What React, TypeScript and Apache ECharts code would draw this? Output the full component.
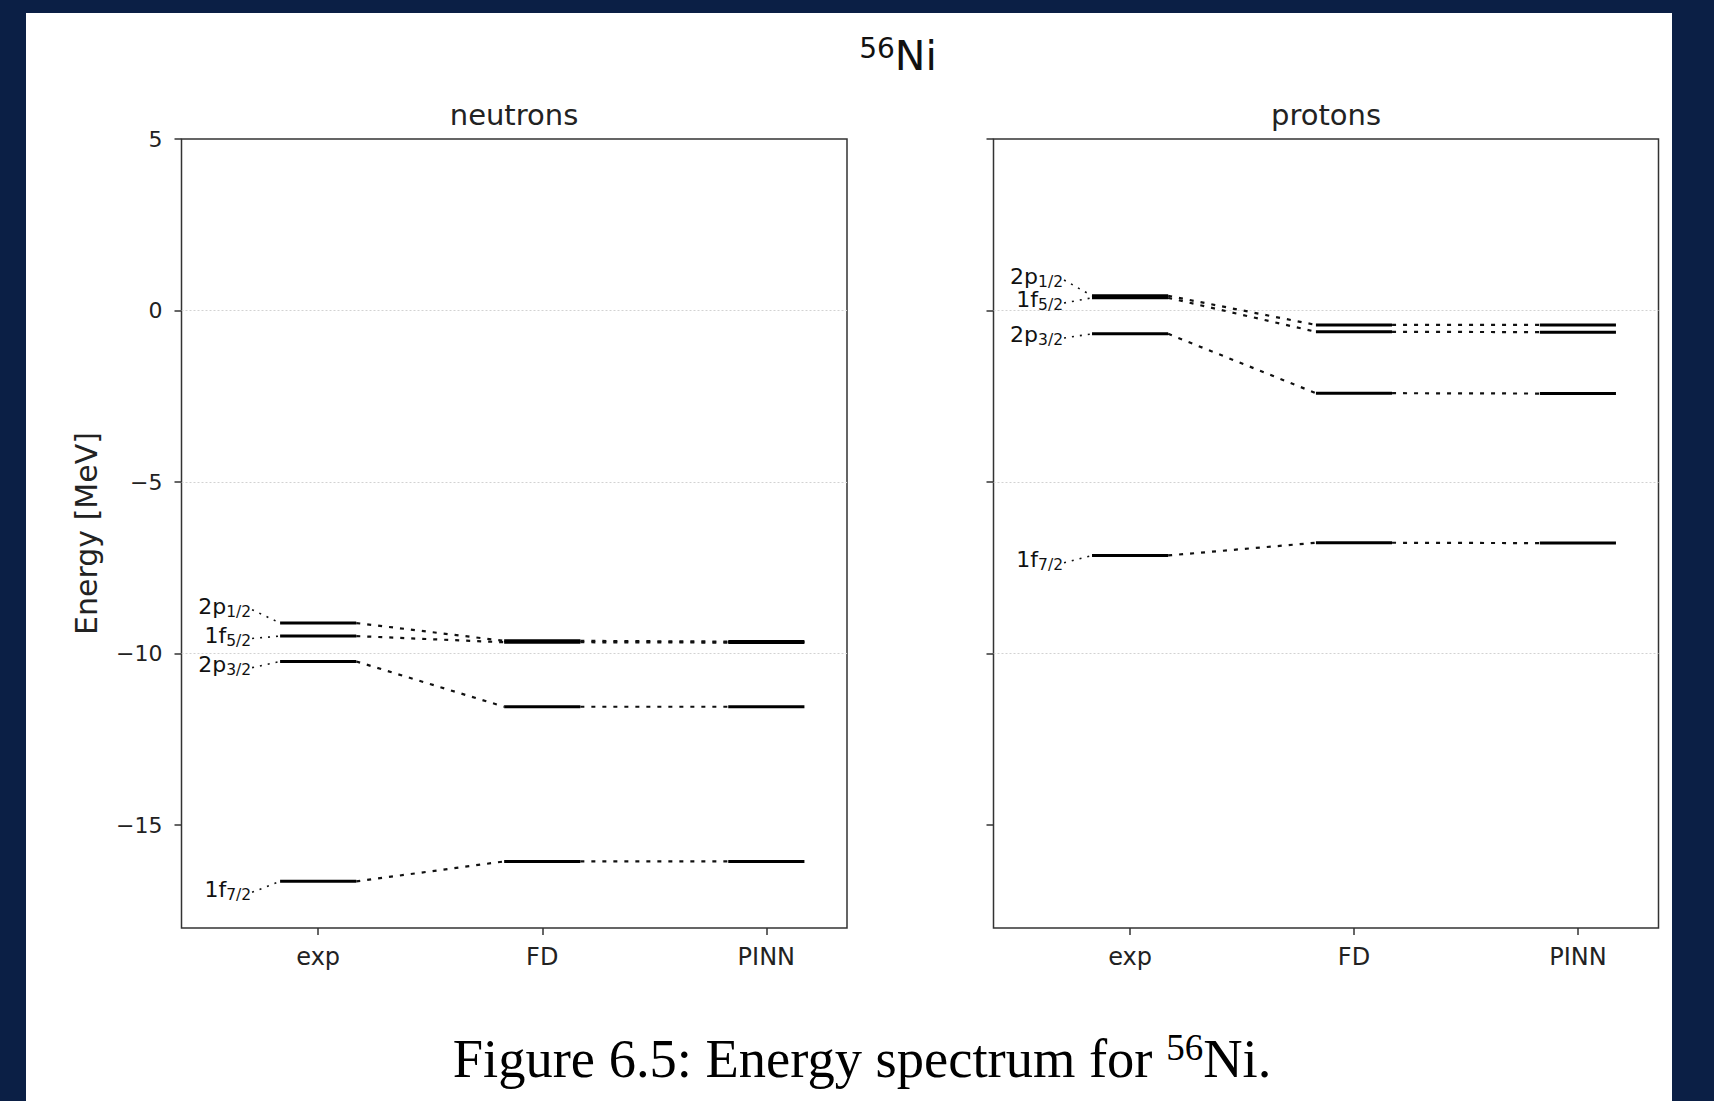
import React, { useEffect, useRef } from 'react';
import * as echarts from 'echarts';

// ---------- data ----------
const methods = ['exp', 'FD', 'PINN'];
const xTicks = [0, 1, 2];
const yTicks = [5, 0, -5, -10, -15];

const stateMain = ['2p', '1f', '2p', '1f'];
const stateSub = ['1/2', '5/2', '3/2', '7/2'];

const neutronExp = [-9.11, -9.49, -10.23, -16.64];
const neutronFD = [-9.63, -9.67, -11.55, -16.06];
const neutronPINN = [-9.65, -9.68, -11.55, -16.06];
const neutronLabelE = [-8.72, -9.56, -10.41, -16.96];

const protonExp = [0.43, 0.37, -0.68, -7.14];
const protonFD = [-0.42, -0.62, -2.41, -6.77];
const protonPINN = [-0.42, -0.63, -2.42, -6.78];
const protonLabelE = [0.89, 0.22, -0.8, -7.35];

// ---------- style constants ----------
const NAVY = '#0b1f45';
const FONT = 'DejaVu Sans';
const HALF = 0.17;
const LABEL_X = -0.295;
const X_MIN = -0.61;
const X_MAX = 2.36;
const Y_MIN = -18;
const Y_MAX = 5;

function rows(exp: number[], fd: number[], pinn: number[], lab: number[]) {
  return exp.map((v, i) => [v, fd[i], pinn[i], lab[i]]);
}

function makeRender() {
  return (params: any, api: any) => {
    const i = params.dataIndex;
    const vals = [api.value(0), api.value(1), api.value(2)];
    const lab = api.value(3);
    const children: any[] = [];
    const la = api.coord([LABEL_X, lab]);
    children.push({
      type: 'text',
      x: la[0] - 1,
      y: la[1] - 3,
      style: {
        text: `{m|${stateMain[i]}}{s|${stateSub[i]}}`,
        align: 'right',
        textAlign: 'right',
        verticalAlign: 'middle',
        textVerticalAlign: 'middle',
        fill: '#111',
        rich: {
          m: { fontSize: 22, fontFamily: FONT, fill: '#111', color: '#111' },
          s: { fontSize: 15.5, fontFamily: FONT, fill: '#111', color: '#111', padding: [11, 0, 0, 0] },
        },
      },
    });
    const e0 = api.coord([-HALF, vals[0]]);
    children.push({
      type: 'line',
      shape: { x1: la[0], y1: la[1], x2: e0[0], y2: e0[1] },
      style: { stroke: '#111', lineWidth: 1.6, lineDash: [2, 6] },
    });
    for (let k = 0; k < 3; k++) {
      const a = api.coord([k - HALF, vals[k]]);
      const b = api.coord([k + HALF, vals[k]]);
      children.push({
        type: 'line',
        shape: { x1: a[0], y1: a[1], x2: b[0], y2: b[1] },
        style: { stroke: '#000', lineWidth: 3 },
      });
    }
    for (let k = 0; k < 2; k++) {
      const a = api.coord([k + HALF, vals[k]]);
      const b = api.coord([k + 1 - HALF, vals[k + 1]]);
      children.push({
        type: 'line',
        shape: { x1: a[0], y1: a[1], x2: b[0], y2: b[1] },
        style: { stroke: '#111', lineWidth: 2.2, lineDash: [4, 7] },
      });
    }
    return { type: 'group', children };
  };
}

const minus = (v: number) => (v < 0 ? '\u2212' + Math.abs(v) : String(v));

function buildOption() {
  const grids = [
    { left: 181.5, top: 139, width: 665.5, height: 789 },
    { left: 993.5, top: 139, width: 665, height: 789 },
  ].map((g) => ({
    ...g,
    show: true,
    borderColor: '#333',
    borderWidth: 1.5,
    backgroundColor: 'rgba(0,0,0,0)',
    containLabel: false,
  }));

  const tickStyle = { color: '#333', width: 1.5 };

  const xAxes = [0, 1].map((gi) => ({
    gridIndex: gi,
    type: 'value',
    position: 'bottom',
    min: X_MIN,
    max: X_MAX,
    axisLine: { show: false, onZero: false },
    splitLine: { show: false },
    axisTick: { show: true, customValues: xTicks, length: 7, lineStyle: tickStyle },
    axisLabel: {
      show: true,
      customValues: xTicks,
      formatter: (v: number) => methods[Math.round(v)] ?? '',
      fontSize: 24,
      fontFamily: FONT,
      color: '#222',
      margin: 17,
    },
  }));

  const yAxes = [0, 1].map((gi) => ({
    gridIndex: gi,
    type: 'value',
    position: 'left',
    min: Y_MIN,
    max: Y_MAX,
    splitNumber: 5,
    axisLine: { show: false, onZero: false },
    axisTick: { show: true, customValues: yTicks, length: 7, lineStyle: tickStyle },
    axisLabel: {
      show: gi === 0,
      customValues: yTicks,
      formatter: (v: number) => minus(v),
      fontSize: 22,
      fontFamily: FONT,
      color: '#222',
      margin: 19,
    },
    splitLine: {
      show: true,
      showMinLine: false,
      showMaxLine: false,
      lineStyle: { color: '#d2d2d2', width: 1, type: [2, 2] },
    },
    name: gi === 0 ? 'Energy [MeV]' : '',
    nameLocation: 'middle',
    nameRotate: 90,
    nameGap: 80,
    nameTextStyle: { fontSize: 30, fontFamily: FONT, color: '#222' },
  }));

  const series = [
    {
      type: 'custom',
      name: 'neutrons',
      xAxisIndex: 0,
      yAxisIndex: 0,
      renderItem: makeRender(),
      data: rows(neutronExp, neutronFD, neutronPINN, neutronLabelE),
      clip: false,
      silent: true,
    },
    {
      type: 'custom',
      name: 'protons',
      xAxisIndex: 1,
      yAxisIndex: 1,
      renderItem: makeRender(),
      data: rows(protonExp, protonFD, protonPINN, protonLabelE),
      clip: false,
      silent: true,
    },
  ];

  const graphic = [
    {
      type: 'text',
      x: 898,
      y: 56,
      style: {
        text: '{sup|56}{main|Ni}',
        align: 'center',
        textAlign: 'center',
        verticalAlign: 'middle',
        textVerticalAlign: 'middle',
        fill: '#111',
        rich: {
          main: { fontSize: 41, fontFamily: FONT, fill: '#111', color: '#111' },
          sup: { fontSize: 28, fontFamily: FONT, fill: '#111', color: '#111', padding: [0, 0, 16, 0] },
        },
      },
    },
    {
      type: 'text',
      x: 514,
      y: 115,
      style: {
        text: 'neutrons',
        fontSize: 29,
        fontFamily: FONT,
        fill: '#222',
        align: 'center',
        textAlign: 'center',
        verticalAlign: 'middle',
        textVerticalAlign: 'middle',
      },
    },
    {
      type: 'text',
      x: 1326,
      y: 115,
      style: {
        text: 'protons',
        fontSize: 29,
        fontFamily: FONT,
        fill: '#222',
        align: 'center',
        textAlign: 'center',
        verticalAlign: 'middle',
        textVerticalAlign: 'middle',
      },
    },
    {
      type: 'text',
      x: 862,
      y: 1058,
      style: {
        text: '{a|Figure 6.5: Energy spectrum for }{sup|56}{a|Ni.}',
        align: 'center',
        textAlign: 'center',
        verticalAlign: 'middle',
        textVerticalAlign: 'middle',
        fill: '#000',
        rich: {
          a: { fontSize: 54.5, fontFamily: 'Liberation Serif', fill: '#000', color: '#000' },
          sup: { fontSize: 37, fontFamily: 'Liberation Serif', fill: '#000', color: '#000', padding: [0, 0, 22, 0] },
        },
      },
    },
  ];

  return {
    animation: false,
    backgroundColor: 'transparent',
    textStyle: { fontFamily: FONT },
    grid: grids,
    xAxis: xAxes,
    yAxis: yAxes,
    series,
    graphic,
  };
}

export default function App() {
  const ref = useRef<HTMLDivElement>(null);
  useEffect(() => {
    document.body.style.margin = '0';
    const chart = echarts.init(ref.current!, null, { renderer: 'svg' });
    chart.setOption(buildOption() as any);
    return () => chart.dispose();
  }, []);
  return (
    <div style={{ position: 'relative', width: 1714, height: 1101, background: NAVY, overflow: 'hidden' }}>
      <div style={{ position: 'absolute', left: 26, top: 13, width: 1646, height: 1088, background: '#fff' }} />
      <div ref={ref} style={{ position: 'absolute', left: 0, top: 0, width: 1714, height: 1101 }} />
    </div>
  );
}
